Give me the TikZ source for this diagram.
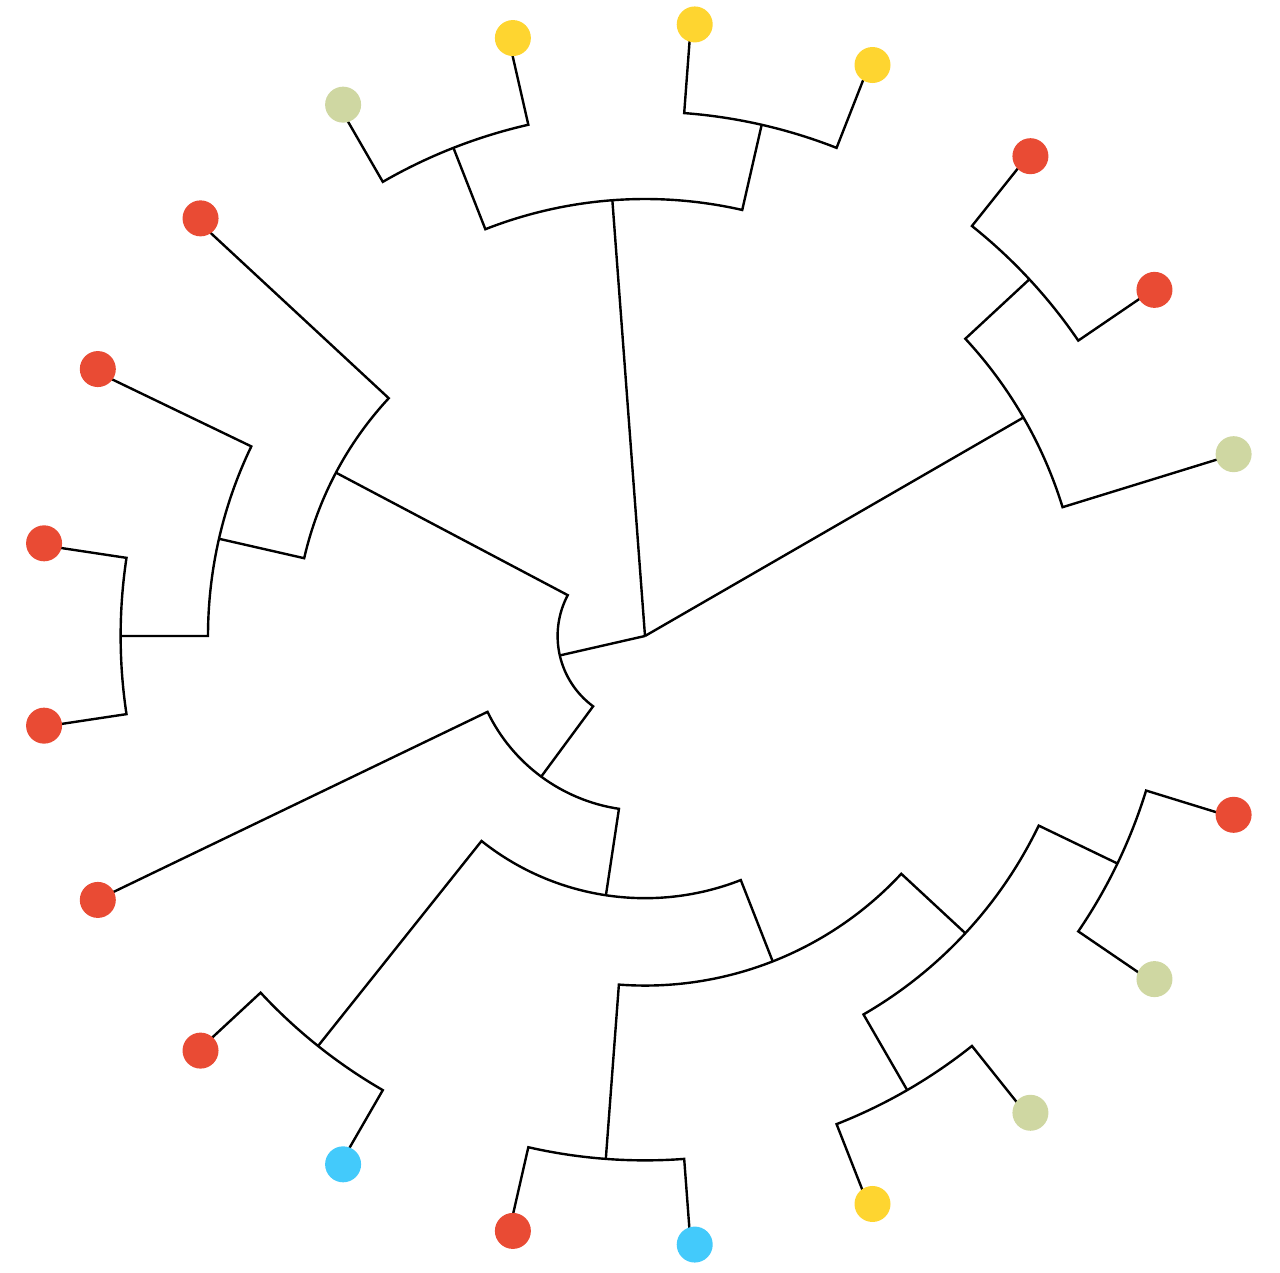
\documentclass[tikz,border=0pt]{standalone}
\usetikzlibrary{calc}
\definecolor{cred}{HTML}{E94B34}
\definecolor{cyel}{HTML}{FED530}
\definecolor{cgrn}{HTML}{CFD7A2}
\definecolor{cblu}{HTML}{43CAFB}
\begin{document}
\begin{tikzpicture}[x=1pt,y=1pt,
  branch/.style={line width=2.4pt, line join=miter, draw=black},
  leafdot/.style={circle, inner sep=0pt, minimum size=36pt, draw=none}]
\useasboundingbox (0,0) rectangle (1280,1272);
\begin{scope}[shift={(645,636)}]
\pgfmathsetmacro\st{360/21}
\def\u{87.4}
\coordinate (root) at (0,0);
% internal nodes: name / slot / level
\foreach \n/\y/\l in {A/5.5/5, A1/6.5/6, A2/4.5/6, B/1.75/5, B1/2.5/6,
  C/11.25/1, C1/8.875/4, C1b/9.75/5, D/10.5/6, C2/13.625/2, K/15.25/3,
  E/13.5/6, J/17/4, F/15.5/6, I/18.5/5, G/17.5/6, H/19.5/6}
  \coordinate (\n) at (\y*\st:\l*\u);
% tips
\foreach \i in {1,...,20}
  \coordinate (T\i) at (\i*\st:7*\u);
% root edges
\draw[branch] (root) -- (A);
\draw[branch] (root) -- (B);
\draw[branch] (root) -- (C);
% parent level / child1 / slot1 / child2 / slot2
\foreach \l/\ca/\ya/\cb/\yb in {5/A2/4.5/A1/6.5, 6/T6/6/T7/7, 6/T4/4/T5/5,
  5/T1/1/B1/2.5, 6/T2/2/T3/3, 1/C1/8.875/C2/13.625, 4/T8/8/C1b/9.75,
  5/T9/9/D/10.5, 6/T10/10/T11/11, 2/T12/12/K/15.25, 3/E/13.5/J/17,
  6/T13/13/T14/14, 4/F/15.5/I/18.5, 6/T15/15/T16/16, 5/G/17.5/H/19.5,
  6/T17/17/T18/18, 6/T19/19/T20/20}
  \draw[branch] (\ca) -- (\ya*\st:\l*\u)
     arc[start angle=\ya*\st, end angle=\yb*\st, radius=\l*\u] -- (\cb);
% leaf dots
\foreach \i/\c in {1/cgrn, 2/cred, 3/cred, 4/cyel, 5/cyel, 6/cyel, 7/cgrn,
  8/cred, 9/cred, 10/cred, 11/cred, 12/cred, 13/cred, 14/cblu, 15/cred,
  16/cblu, 17/cyel, 18/cgrn, 19/cgrn, 20/cred}
  \node[leafdot, fill=\c] (L\i) at ($(T\i)+(4,1.5)$) {};
\end{scope}
\end{tikzpicture}
\end{document}
